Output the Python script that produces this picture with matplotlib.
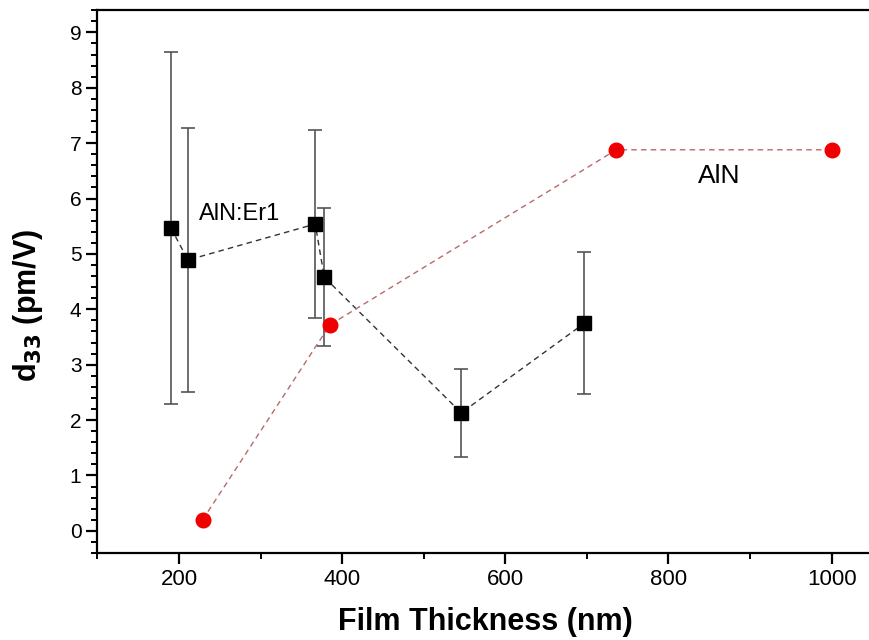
import matplotlib
matplotlib.use("Agg")
import matplotlib.pyplot as plt
from matplotlib.ticker import MultipleLocator

plt.rcParams['font.family'] = ['Liberation Sans', 'DejaVu Sans']

# AlN:Er1 films
er_thickness = [190, 211, 367, 378, 546, 697]
er_d33 = [5.47, 4.89, 5.54, 4.58, 2.13, 3.75]
er_err = [3.18, 2.39, 1.70, 1.24, 0.80, 1.28]

# undoped AlN films
aln_thickness = [229, 385, 736, 1000]
aln_d33 = [0.20, 3.72, 6.88, 6.88]

x_ticks = [200, 400, 600, 800, 1000]
y_ticks = [0, 1, 2, 3, 4, 5, 6, 7, 8, 9]

fig = plt.figure(figsize=(8.7, 6.4), dpi=100)
ax = fig.add_axes([0.112, 0.136, 0.888, 0.848])

ax.errorbar(er_thickness, er_d33, yerr=er_err, fmt='none', ecolor='#555555',
            elinewidth=1.2, capsize=5, capthick=1.2, zorder=2)
ax.plot(er_thickness, er_d33, linestyle=(0, (4, 3)), color='#333333', lw=1.0,
        marker='s', markersize=9.5, markerfacecolor='black',
        markeredgecolor='black', zorder=3)
ax.plot(aln_thickness, aln_d33, linestyle=(0, (4, 3)), color='#b86a6a', lw=1.0,
        marker='o', markersize=10.5, markerfacecolor='#ee0000',
        markeredgecolor='#ee0000', zorder=3)

ax.text(224, 5.72, 'AlN:Er1', fontsize=17, va='center', ha='left')
ax.text(836, 6.41, 'AlN', fontsize=19, va='center', ha='left')

ax.set_xlim(100, 1047)
ax.set_ylim(-0.4, 9.4)
ax.set_xticks(x_ticks)
ax.set_yticks(y_ticks)
ax.xaxis.set_minor_locator(MultipleLocator(100))
ax.yaxis.set_minor_locator(MultipleLocator(0.2))

ax.spines['right'].set_visible(False)
for s in ('left', 'bottom', 'top'):
    ax.spines[s].set_linewidth(1.6)

ax.tick_params(axis='both', which='major', direction='out', length=8,
               width=1.6)
ax.tick_params(axis='x', which='major', labelsize=16)
ax.tick_params(axis='y', which='major', labelsize=15)
ax.tick_params(axis='both', which='minor', direction='out', length=4.5,
               width=1.4)
ax.tick_params(axis='x', top=False, which='both')

ax.set_xlabel('Film Thickness (nm)', fontsize=22, fontweight='bold',
              va='center', ha='center')
ax.set_ylabel('d$_{\\mathbf{33}}$ (pm/V)', fontsize=22, fontweight='bold',
              va='center', ha='center')
ax.xaxis.set_label_coords(0.502, -0.127)
ax.yaxis.set_label_coords(-0.09, 0.457)

fig.savefig('out.png', dpi=100)
